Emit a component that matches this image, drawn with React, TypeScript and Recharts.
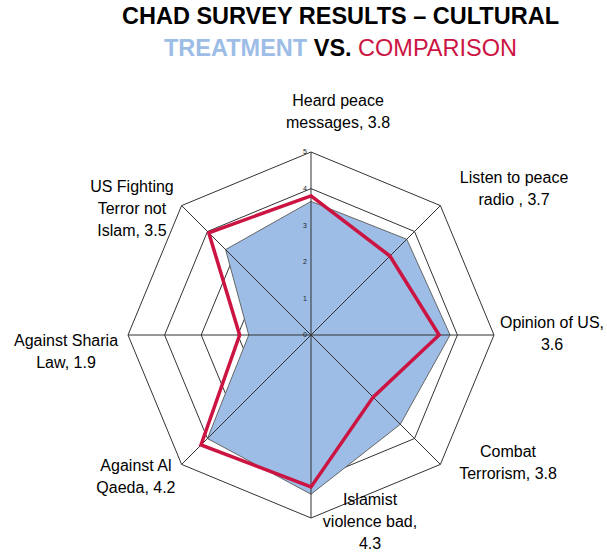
import React from "react";
import { PolarAngleAxis, PolarGrid, PolarRadiusAxis, Radar, RadarChart } from "recharts";

const categories = [
  "Heard peace messages",
  "Listen to peace radio",
  "Opinion of US",
  "Combat Terrorism",
  "Islamist violence bad",
  "Against Al Qaeda",
  "Against Sharia Law",
  "US Fighting Terror not Islam",
];
const labelLines = [
  ["Heard peace", "messages, 3.8"],
  ["Listen to peace", "radio , 3.7"],
  ["Opinion of US,", "3.6"],
  ["Combat", "Terrorism, 3.8"],
  ["Islamist", "violence bad,", "4.3"],
  ["Against Al", "Qaeda, 4.2"],
  ["Against Sharia", "Law, 1.9"],
  ["US Fighting", "Terror not", "Islam, 3.5"],
];
const treatment = [3.65, 3.7, 3.8, 3.45, 4.35, 4.0, 1.7, 3.3];
const comparison = [3.8, 3.05, 3.5, 2.4, 4.15, 4.25, 1.95, 3.95];
const radiusTicks = [0, 1, 2, 3, 4, 5];
const AXIS_MAX = radiusTicks[radiusTicks.length - 1];

// label block centre, relative to the angle-axis tick point
const labelOffsets: [number, number][] = [
  [27, -33],
  [68, -11.5],
  [50, -2],
  [62, -7.5],
  [59, -4.5],
  [-40, 6],
  [-54, 16],
  [-44, 8],
];

const data = categories.map((name, i) => ({
  name,
  treatment: treatment[i],
  comparison: comparison[i],
}));

const FONT = "'Liberation Sans', Arial, sans-serif";
const BLUE = "#9dbde6";
const RED = "#cc1443";

function AngleTick(props: any) {
  const { x, y, index } = props;
  const lines = labelLines[index];
  const [dx, dy] = labelOffsets[index];
  const cx = x + dx;
  const cy = y + dy;
  return (
    <text x={cx} y={cy} textAnchor="middle" fontSize={16} fill="#000" fontFamily={FONT}>
      {lines.map((line, i) => (
        <tspan key={i} x={cx} y={cy + (i - (lines.length - 1) / 2) * 22} dy="0.35em">
          {line}
        </tspan>
      ))}
    </text>
  );
}

function RadiusTick(props: any) {
  const { x, y, payload } = props;
  return (
    <text x={x - 4} y={y} dy="0.35em" textAnchor="end" fontSize={7} fill="#222" fontFamily={FONT}>
      {payload.value}
    </text>
  );
}

// filled polygon, then the spokes drawn over it (spokes sit on top of the fill in the original)
function FilledWithSpokes(props: any) {
  const points: any[] = props.points || [];
  if (!points.length) return null;
  const d = points.map((p, i) => `${i ? "L" : "M"}${p.x},${p.y}`).join(" ") + " Z";
  return (
    <g>
      <path d={d} fill={BLUE} stroke="#666" strokeWidth={1} />
      {points.map((p, i) => {
        const k = AXIS_MAX / p.value;
        return (
          <line
            key={i}
            x1={p.cx}
            y1={p.cy}
            x2={p.cx + (p.x - p.cx) * k}
            y2={p.cy + (p.y - p.cy) * k}
            stroke="#333"
            strokeWidth={1}
          />
        );
      })}
    </g>
  );
}

export default function App() {
  return (
    <div style={{ position: "absolute", left: 0, top: 0, width: 607, height: 554, background: "#fff", fontFamily: FONT }}>
      <div style={{ position: "absolute", left: 0, top: 3, width: 681, textAlign: "center", fontSize: 23.5, fontWeight: "bold", color: "#000" }}>
        CHAD SURVEY RESULTS – CULTURAL
      </div>
      <div style={{ position: "absolute", left: 164, top: 35, fontSize: 23.5, whiteSpace: "nowrap" }}>
        <span style={{ color: BLUE, fontWeight: "bold" }}>TREATMENT</span>
        <span style={{ color: "#000", fontWeight: "bold" }}> VS. </span>
        <span style={{ color: RED }}>COMPARISON</span>
      </div>
      <div style={{ position: "absolute", left: 0, top: 0 }}>
        <RadarChart width={607} height={554} cx={311} cy={335} outerRadius={183} data={data} startAngle={90} endAngle={-270}>
          <PolarGrid gridType="polygon" radialLines={false} stroke="#333" strokeWidth={1} />
          <Radar
            dataKey="treatment"
            shape={<FilledWithSpokes />}
            fill={BLUE}
            isAnimationActive={false}
          />
          <Radar
            dataKey="comparison"
            stroke={RED}
            strokeWidth={3.5}
            fill="none"
            fillOpacity={0}
            isAnimationActive={false}
          />
          <PolarAngleAxis dataKey="name" tick={<AngleTick />} tickLine={false} axisLine={false} />
          <PolarRadiusAxis
            angle={90}
            domain={[0, 5]}
            ticks={radiusTicks as any}
            tickCount={6}
            tick={<RadiusTick />}
            axisLine={false}
            tickLine={false}
          />
        </RadarChart>
      </div>
    </div>
  );
}
